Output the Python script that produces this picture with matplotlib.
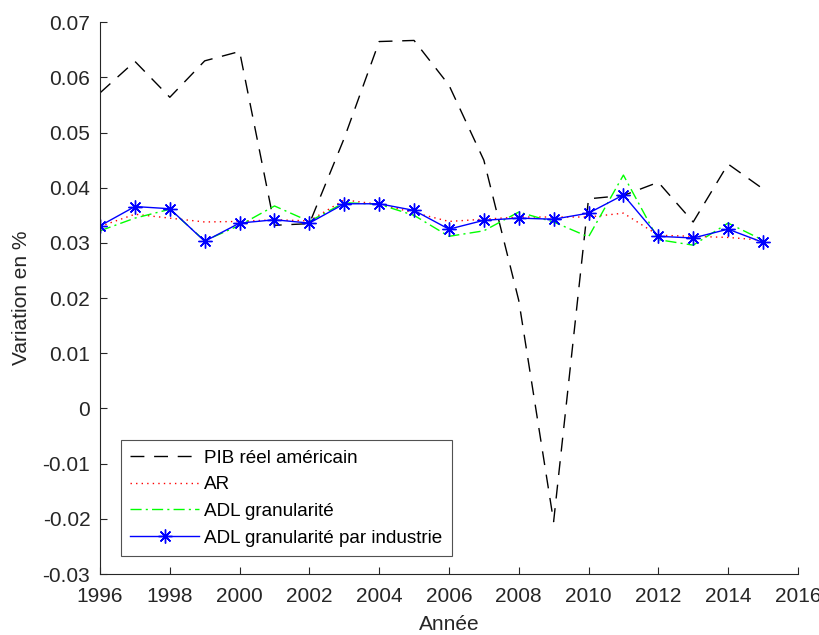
import matplotlib
matplotlib.use("Agg")
import matplotlib.pyplot as plt
import numpy as np

plt.rcParams['font.family'] = ['Liberation Sans', 'DejaVu Sans']

years = list(range(1996, 2016))
pib = [0.0572, 0.0629, 0.0564, 0.0630, 0.0647, 0.0332, 0.0335, 0.0490, 0.0665,
       0.0667, 0.0586, 0.0450, 0.0196, -0.0205, 0.0380, 0.0386, 0.0410, 0.0338,
       0.0443, 0.0398]
ar = [0.0330, 0.0352, 0.0345, 0.0338, 0.0339, 0.0342, 0.0340, 0.0378, 0.0370,
      0.0355, 0.0339, 0.0343, 0.0347, 0.0347, 0.0347, 0.0354, 0.0314, 0.0312,
      0.0310, 0.0305]
adl = [0.0322, 0.0345, 0.0361, 0.0304, 0.0332, 0.0367, 0.0339, 0.0373, 0.0370,
       0.0350, 0.0312, 0.0322, 0.0356, 0.0338, 0.0311, 0.0423, 0.0306, 0.0296,
       0.0336, 0.0305]
adl_ind = [0.0331, 0.0366, 0.0362, 0.0303, 0.0336, 0.0342, 0.0336, 0.0371, 0.0371,
           0.0359, 0.0325, 0.0341, 0.0345, 0.0343, 0.0354, 0.0387, 0.0312, 0.0309,
           0.0325, 0.0301]

labels = ['PIB réel américain', 'AR', 'ADL granularité', 'ADL granularité par industrie']
xticks = list(range(1996, 2017, 2))
yticks = [-0.03, -0.02, -0.01, 0, 0.01, 0.02, 0.03, 0.04, 0.05, 0.06, 0.07]

fig = plt.figure(figsize=(8.2, 6.35), dpi=100)
ax = fig.add_axes([0.122, 0.096, 0.851, 0.869])

ax.plot(years, pib, color='black', linestyle=(0, (10, 7)), linewidth=1.0, label=labels[0])
ax.plot(years, ar, color='red', linestyle=(0, (1, 3)), linewidth=1.0, label=labels[1])
ax.plot(years, adl, color='#00FF00', linestyle=(0, (8, 3, 1.5, 3)), linewidth=1.0, label=labels[2])
ax.plot(years, adl_ind, color='blue', linestyle='-', linewidth=1.0, marker=(8, 2, 0),
        markersize=10, markeredgewidth=1.0, label=labels[3])

ax.set_xlim(1996, 2016)
ax.set_ylim(-0.03, 0.07)
ax.set_xticks(xticks)
ax.set_xticklabels([str(x) for x in xticks])
ax.set_yticks(yticks)
ax.set_yticklabels(['0' if v == 0 else ('%g' % v) for v in yticks])

for s in ['top', 'right']:
    ax.spines[s].set_visible(False)
for s in ['left', 'bottom']:
    ax.spines[s].set_color('#262626')
    ax.spines[s].set_linewidth(0.8)
ax.tick_params(direction='in', length=5, colors='#262626', labelsize=15)
ax.tick_params(axis='y', pad=7)
ax.tick_params(axis='x', pad=9)

ax.set_xlabel('Année', fontsize=15, color='#262626', labelpad=7)
ax.set_ylabel('Variation en %', fontsize=15, color='#262626', labelpad=8)

leg = ax.legend(loc='lower left', bbox_to_anchor=(0.030, 0.0326), borderaxespad=0,
                fontsize=13.6, handlelength=3.65, frameon=True, fancybox=False,
                borderpad=0.5, labelspacing=0.5, handletextpad=0.26)
leg.get_frame().set_edgecolor('#262626')
leg.get_frame().set_linewidth(0.8)

fig.savefig('out.png', dpi=100)
